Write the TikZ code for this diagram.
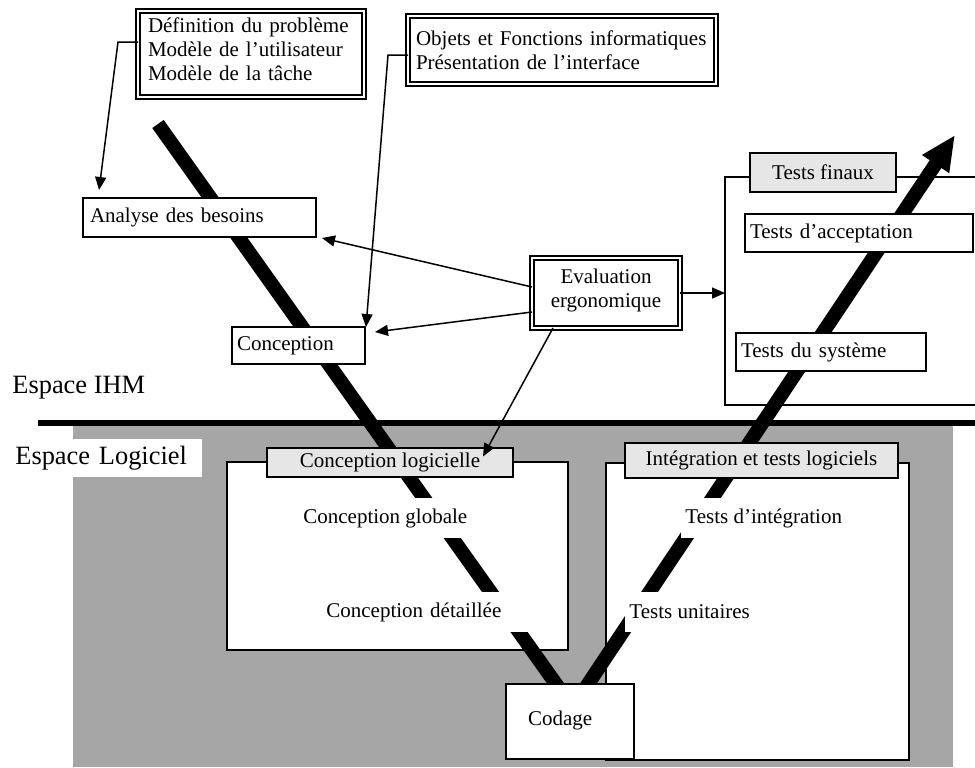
\documentclass[tikz,border=0pt]{standalone}
\usepackage{fontspec}
\setmainfont{Liberation Serif}
\usetikzlibrary{arrows.meta}
\definecolor{zonegris}{HTML}{A6A6A6}
\definecolor{etiquette}{HTML}{E6E6E6}

\begin{document}
\begin{tikzpicture}[x=0.5pt,y=-0.5pt,
		font=\fontsize{10.5}{12}\selectfont,
		boite/.style={draw,fill=white,line width=0.75pt,anchor=north west,outer sep=0pt,inner ysep=0pt,align=left},
		cadre/.style={draw,fill=white,line width=0.75pt,anchor=north west,outer sep=0pt,inner sep=0pt},
		titre/.style={draw,fill=etiquette,line width=0.75pt,anchor=north west,outer sep=0pt,inner sep=0pt,align=center},
		dboite/.style={draw,fill=white,double,double distance=1.2pt,line width=1pt,anchor=north west,outer sep=0pt,inner ysep=0pt},
		etape/.style={fill=white,anchor=west,inner xsep=2pt,inner ysep=0pt,minimum height=20pt,align=left},
		espace/.style={font=\fontsize{13.2}{15}\selectfont,inner ysep=0pt},
		fleche/.style={line width=0.75pt,-{Triangle[length=6.5pt,width=5.5pt]}},
		cycle/.style={line width=7pt}]
		\clip (0,0) rectangle (975,767);
		% zone logicielle
		\fill[zonegris] (73,426) rectangle (953,767);
		\draw[line width=2.8pt] (38,423) -- (975,423);
		\node[espace,anchor=west,inner xsep=0pt] (ihm) at (12,388) {Espace IHM};
		\node[espace,fill=white,anchor=north west,minimum height=19pt,inner xsep=7.5pt,text width=86pt,align=left] (logiciel) at (0,439) {Espace Logiciel};
		% cadres
		\node[cadre,minimum width=170.5pt,minimum height=94pt] (cl) at (227,462) {};
		\node[cadre,minimum width=151.5pt,minimum height=148.5pt] (it) at (606,463) {};
		\node[cadre,minimum width=140pt,minimum height=114pt] (tf) at (725,177) {};
		% cycle en V
		\coordinate (depart) at (158,124);
		\coordinate (basg) at (556,684);
		\coordinate (basd) at (588,684);
		\coordinate (pointe) at (955,135);
		\draw[cycle,shorten >=-8pt] (depart) -- (basg);
		\draw[cycle,shorten <=-8pt,-{Triangle[length=17.5pt,width=15pt]}] (basd) -- (pointe);
		% etapes
		\node[etape] (globale) at (299,518) {Conception globale};
		\node[etape,text width=100pt] (detaillee) at (322,612) {Conception détaillée};
		\node[etape] (integration) at (681,518) {Tests d’intégration};
		\node[etape] (unitaires) at (625,612) {Tests unitaires};
		\node[titre,minimum width=123pt,minimum height=14.5pt] (cltitre) at (267,448) {Conception logicielle};
		\node[titre,minimum width=136.5pt,minimum height=17.5pt] (ittitre) at (625,443) {Intégration et tests logiciels};
		\node[titre,minimum width=73pt,minimum height=19.5pt] (tftitre) at (750,153) {Tests finaux};
		\node[boite,minimum height=19.5pt,inner xsep=3.5pt,text width=109.5pt] (analyse) at (83,198) {Analyse des besoins};
		\node[boite,minimum height=18.5pt,inner xsep=2.5pt,text width=61.5pt] (conception) at (232,327) {Conception};
		\node[boite,minimum height=19pt,inner xsep=2.5pt,text width=109pt] (acceptation) at (745,214) {Tests d’acceptation};
		\node[boite,minimum height=19pt,inner xsep=2.5pt,text width=90pt] (systeme) at (736,333) {Tests du système};
		\node[boite,minimum height=37.5pt,inner xsep=11pt,text width=42pt,text depth=3pt] (codage) at (506,684) {Codage};
		% modeles
		\node[dboite,minimum height=43pt,inner xsep=5pt,text width=103pt,align=left] (definition) at (138,11) {Définition du problème\\Modèle de l’utilisateur\\Modèle de la tâche\\[-7pt]\mbox{}};
		\node[dboite,minimum height=34pt,inner xsep=4pt,text width=146pt,align=left] (objets) at (408,16) {\mbox{Objets et Fonctions informatiques}\\Présentation de l’interface};
		\node[dboite,minimum width=74pt,minimum height=35pt,align=center] (evaluation) at (532,258) {Evaluation\\ergonomique\\[-7pt]\mbox{}};
		% fleches
		\draw[fleche] ([yshift=6pt]definition.west) -- ++(-10pt,0) -- ([xshift=8pt,yshift=4pt]analyse.north west);
		\draw[fleche] ([yshift=-2.5pt]objets.west) -- ++(-10pt,0) -- ([xshift=0.5pt]conception.north east);
		\draw[fleche] ([yshift=3pt]evaluation.west) -- ([xshift=3pt,yshift=-0.5pt]analyse.south east);
		\draw[fleche] ([yshift=-9.5pt]evaluation.west) -- ([xshift=5pt,yshift=-2.5pt]conception.north east);
		\draw[fleche] (evaluation.east) -- (evaluation.east -| tf.west);
		\draw[fleche] ([xshift=10.5pt]evaluation.south west) -- ([xshift=-15pt,yshift=3pt]cltitre.east);
	\end{tikzpicture}
\end{document}
